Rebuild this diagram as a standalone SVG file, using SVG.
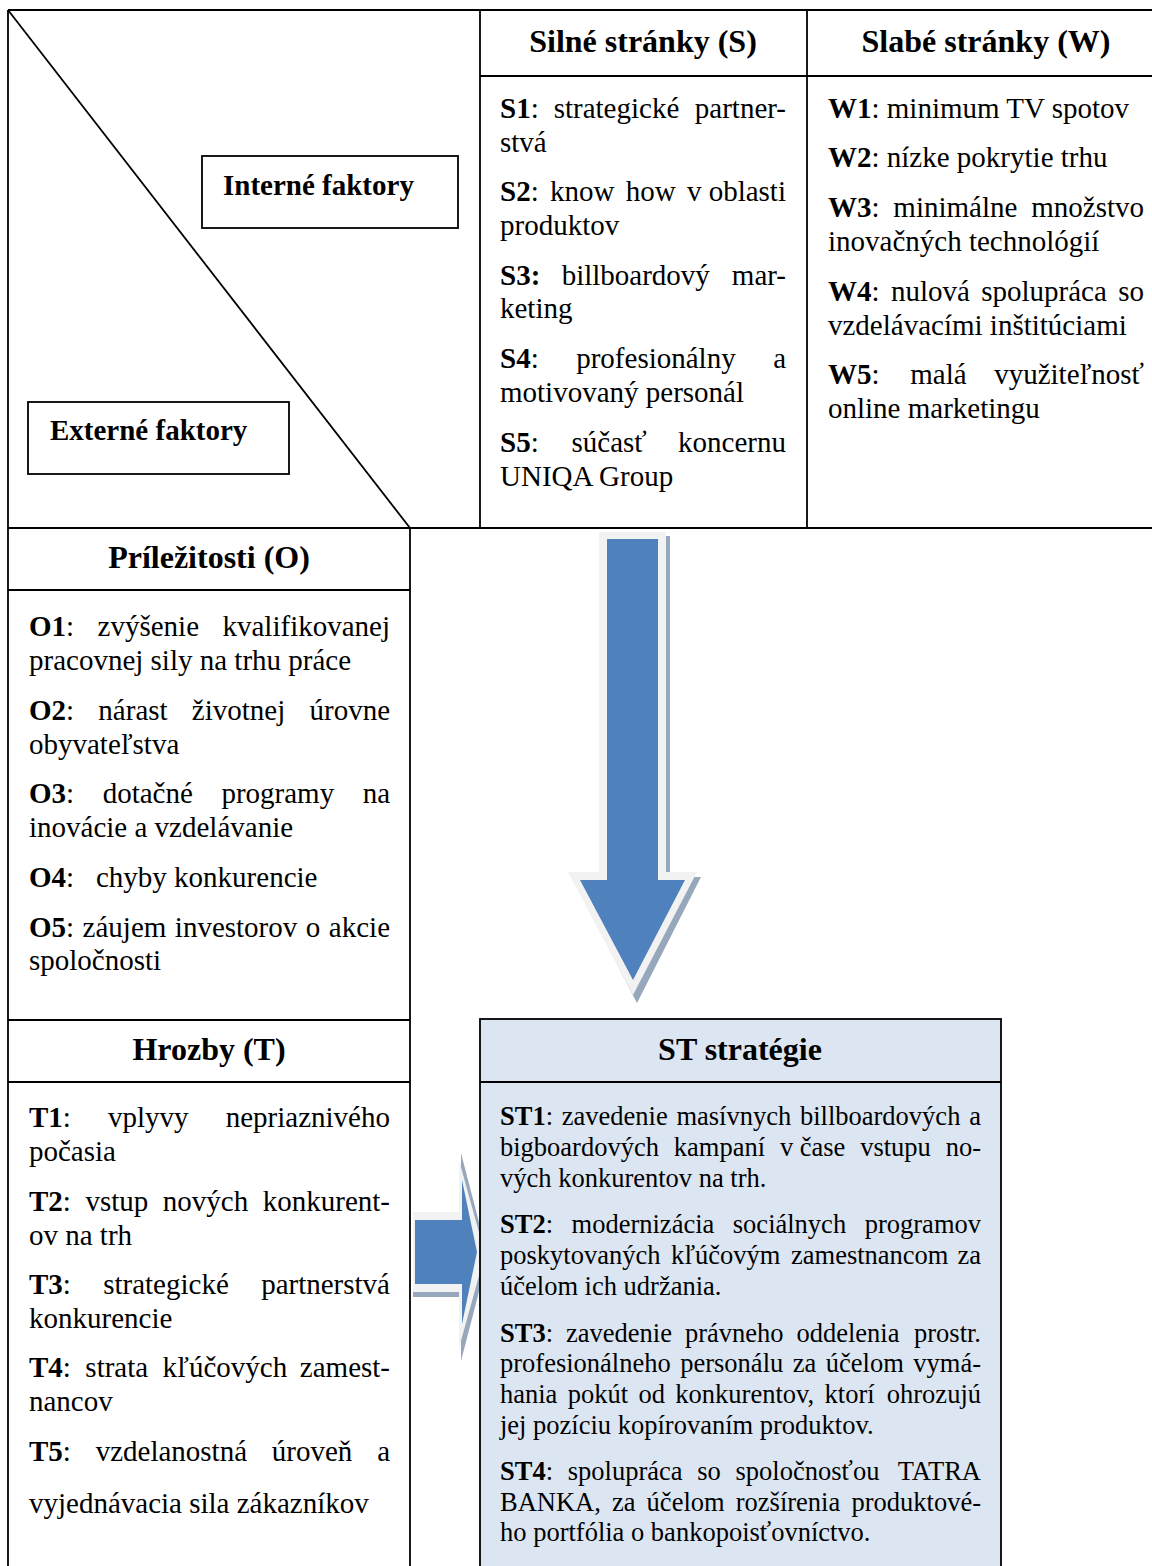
<svg xmlns="http://www.w3.org/2000/svg" width="1152" height="1566" viewBox="0 0 1152 1566">
<style>
text{font-family:'Liberation Serif','Times New Roman',serif;fill:#000}
.t{font-size:29px}
.s{font-size:26.5px}
.h{font-size:32px;font-weight:bold;text-anchor:middle}
.lb{font-size:29px;font-weight:bold}
.bd{font-weight:bold}
.e{text-anchor:end}
.ln{stroke:#000;stroke-width:1.8;fill:none}
.blue{fill:#4f81bd}
.light{fill:#f2f2f2}
.shadow{fill:#97a7bc}
</style>
<rect x="0" y="0" width="1152" height="1566" fill="#fff"/>

<g id="connectors">
  <g id="arrow-down">
    <polygon class="shadow" points="603,536 670,536 670,877 701,877 637,1003 572,877 603,877"/>
    <polygon class="light" points="599,532 666,532 666,872 697,872 633,995 568,872 599,872"/>
    <polygon class="blue" points="607,539 658,539 658,880 685,880 633,980 580,880 607,880"/>
  </g>
  <g id="arrow-right">
    <polygon class="shadow" points="413,1216 461,1216 461,1153 488,1257 461,1361 461,1297 413,1297"/>
    <polygon class="light" points="413,1212 459,1212 459,1160 485,1254 459,1348 459,1292 413,1292"/>
    <polygon class="blue" points="415,1220 462,1220 462,1180 477,1252 462,1324 462,1284 415,1284"/>
  </g>
</g>

<g id="grid">
  <line class="ln" x1="8" y1="10" x2="1152" y2="10"/>
  <line class="ln" x1="8" y1="10" x2="8" y2="1566"/>
  <line class="ln" x1="480" y1="10" x2="480" y2="528"/>
  <line class="ln" x1="807" y1="10" x2="807" y2="528"/>
  <line class="ln" x1="480" y1="76" x2="1152" y2="76"/>
  <line class="ln" x1="8" y1="528" x2="1152" y2="528"/>
  <line class="ln" x1="410" y1="528" x2="410" y2="1566"/>
  <line class="ln" x1="8" y1="590" x2="410" y2="590"/>
  <line class="ln" x1="8" y1="1020" x2="410" y2="1020"/>
  <line class="ln" x1="8" y1="1082" x2="410" y2="1082"/>
  <line class="ln" x1="8" y1="10" x2="410" y2="528"/>
</g>

<g id="interne">
  <rect class="ln" x="202" y="156" width="256" height="72"/>
  <text class="lb" x="223" y="195">Interné faktory</text>
</g>
<g id="externe">
  <rect class="ln" x="28" y="402" width="261" height="72"/>
  <text class="lb" x="50" y="440">Externé faktory</text>
</g>

<g id="silne">
  <text class="h" x="643" y="52">Silné stránky (S)</text>
  <text class="t" y="118" word-spacing="7.7"><tspan x="500"><tspan class="bd">S1</tspan>: strategické</tspan><tspan x="786" class="e">partner-</tspan></text>
  <text class="t" x="500" y="152">stvá</text>
  <text class="t" y="201" word-spacing="4"><tspan x="500"><tspan class="bd">S2</tspan>: know how</tspan><tspan x="786" class="e" word-spacing="0">v oblasti</tspan></text>
  <text class="t" x="500" y="235">produktov</text>
  <text class="t" y="285" word-spacing="14.1"><tspan x="500"><tspan class="bd">S3:</tspan> billboardový</tspan><tspan x="786" class="e">mar-</tspan></text>
  <text class="t" x="500" y="318">keting</text>
  <text class="t" y="368" word-spacing="30.25"><tspan x="500"><tspan class="bd">S4</tspan>: profesionálny</tspan><tspan x="786" class="e">a</tspan></text>
  <text class="t" x="500" y="402">motivovaný personál</text>
  <text class="t" y="452" word-spacing="25.6"><tspan x="500"><tspan class="bd">S5</tspan>: súčasť</tspan><tspan x="786" class="e">koncernu</tspan></text>
  <text class="t" x="500" y="486">UNIQA Group</text>
</g>

<g id="slabe">
  <text class="h" x="986" y="52">Slabé stránky (W)</text>
  <text class="t" x="828" y="118"><tspan class="bd">W1</tspan>: minimum TV spotov</text>
  <text class="t" x="828" y="167"><tspan class="bd">W2</tspan>: nízke pokrytie trhu</text>
  <text class="t" y="217" word-spacing="6.55"><tspan x="828"><tspan class="bd">W3</tspan>: minimálne</tspan><tspan x="1144" class="e">množstvo</tspan></text>
  <text class="t" x="828" y="251">inovačných technológií</text>
  <text class="t" y="301" word-spacing="4.1"><tspan x="828"><tspan class="bd">W4</tspan>: nulová spolupráca</tspan><tspan x="1144" class="e">so</tspan></text>
  <text class="t" x="828" y="335">vzdelávacími inštitúciami</text>
  <text class="t" y="384" word-spacing="23.5"><tspan x="828"><tspan class="bd">W5</tspan>: malá</tspan><tspan x="1144" class="e">využiteľnosť</tspan></text>
  <text class="t" x="828" y="418">online marketingu</text>
</g>

<g id="prilezitosti">
  <text class="h" x="209" y="568">Príležitosti (O)</text>
  <text class="t" y="636" word-spacing="16.2"><tspan x="29"><tspan class="bd">O1</tspan>: zvýšenie</tspan><tspan x="390" class="e">kvalifikovanej</tspan></text>
  <text class="t" x="29" y="670">pracovnej sily na trhu práce</text>
  <text class="t" y="720" word-spacing="17"><tspan x="29"><tspan class="bd">O2</tspan>: nárast životnej</tspan><tspan x="390" class="e">úrovne</tspan></text>
  <text class="t" x="29" y="754">obyvateľstva</text>
  <text class="t" y="803" word-spacing="21.3"><tspan x="29"><tspan class="bd">O3</tspan>: dotačné programy</tspan><tspan x="390" class="e">na</tspan></text>
  <text class="t" x="29" y="837">inovácie a vzdelávanie</text>
  <text class="t" y="887"><tspan x="29"><tspan class="bd">O4</tspan>:</tspan><tspan x="96">chyby konkurencie</tspan></text>
  <text class="t" y="937" word-spacing="1.25"><tspan x="29"><tspan class="bd">O5</tspan>: záujem investorov o</tspan><tspan x="390" class="e">akcie</tspan></text>
  <text class="t" x="29" y="970">spoločnosti</text>
</g>

<g id="hrozby">
  <text class="h" x="209" y="1060">Hrozby (T)</text>
  <text class="t" y="1127" word-spacing="29.9"><tspan x="29"><tspan class="bd">T1</tspan>: vplyvy</tspan><tspan x="390" class="e">nepriaznivého</tspan></text>
  <text class="t" x="29" y="1161">počasia</text>
  <text class="t" y="1211" word-spacing="7.3"><tspan x="29"><tspan class="bd">T2</tspan>: vstup nových</tspan><tspan x="390" class="e">konkurent-</tspan></text>
  <text class="t" x="29" y="1245">ov na trh</text>
  <text class="t" y="1294" word-spacing="25"><tspan x="29"><tspan class="bd">T3</tspan>: strategické</tspan><tspan x="390" class="e">partnerstvá</tspan></text>
  <text class="t" x="29" y="1328">konkurencie</text>
  <text class="t" y="1377" word-spacing="7.2"><tspan x="29"><tspan class="bd">T4</tspan>: strata kľúčových</tspan><tspan x="390" class="e">zamest-</tspan></text>
  <text class="t" x="29" y="1411">nancov</text>
  <text class="t" y="1461" word-spacing="17.5"><tspan x="29"><tspan class="bd">T5</tspan>: vzdelanostná úroveň</tspan><tspan x="390" class="e">a</tspan></text>
  <text class="t" x="29" y="1513">vyjednávacia sila zákazníkov</text>
</g>

<g id="st-strategie">
  <rect x="480" y="1019" width="521" height="560" fill="#dce6f2" stroke="#000" stroke-width="1.8"/>
  <line class="ln" x1="480" y1="1082" x2="1001" y2="1082"/>
  <text class="h" x="740" y="1060">ST stratégie</text>
  <text class="s" y="1125" word-spacing="2.1"><tspan x="500"><tspan class="bd">ST1</tspan>: zavedenie masívnych billboardových</tspan><tspan x="981" class="e">a</tspan></text>
  <text class="s" y="1156"><tspan x="500">bigboardových</tspan><tspan x="673.8">kampaní</tspan><tspan x="779.9">v čase</tspan><tspan x="860.2">vstupu</tspan><tspan x="981" class="e">no-</tspan></text>
  <text class="s" x="500" y="1187">vých konkurentov na trh.</text>
  <text class="s" y="1233" word-spacing="11.9"><tspan x="500"><tspan class="bd">ST2</tspan>: modernizácia sociálnych</tspan><tspan x="981" class="e">programov</tspan></text>
  <text class="s" y="1264" word-spacing="3.95"><tspan x="500">poskytovaných kľúčovým zamestnancom</tspan><tspan x="981" class="e">za</tspan></text>
  <text class="s" x="500" y="1295">účelom ich udržania.</text>
  <text class="s" y="1342" word-spacing="6.35"><tspan x="500"><tspan class="bd">ST3</tspan>: zavedenie právneho oddelenia</tspan><tspan x="981" class="e">prostr.</tspan></text>
  <text class="s" y="1372" word-spacing="2.87"><tspan x="500">profesionálneho personálu za účelom</tspan><tspan x="981" class="e">vymá-</tspan></text>
  <text class="s" y="1403" word-spacing="3.75"><tspan x="500">hania pokút od konkurentov, ktorí</tspan><tspan x="981" class="e">ohrozujú</tspan></text>
  <text class="s" x="500" y="1434">jej pozíciu kopírovaním produktov.</text>
  <text class="s" y="1480" word-spacing="8.1"><tspan x="500"><tspan class="bd">ST4</tspan>: spolupráca so spoločnosťou</tspan><tspan x="981" class="e">TATRA</tspan></text>
  <text class="s" y="1511" word-spacing="4.5"><tspan x="500">BANKA, za účelom rozšírenia</tspan><tspan x="981" class="e">produktové-</tspan></text>
  <text class="s" x="500" y="1541">ho portfólia o bankopoisťovníctvo.</text>
</g>
</svg>
